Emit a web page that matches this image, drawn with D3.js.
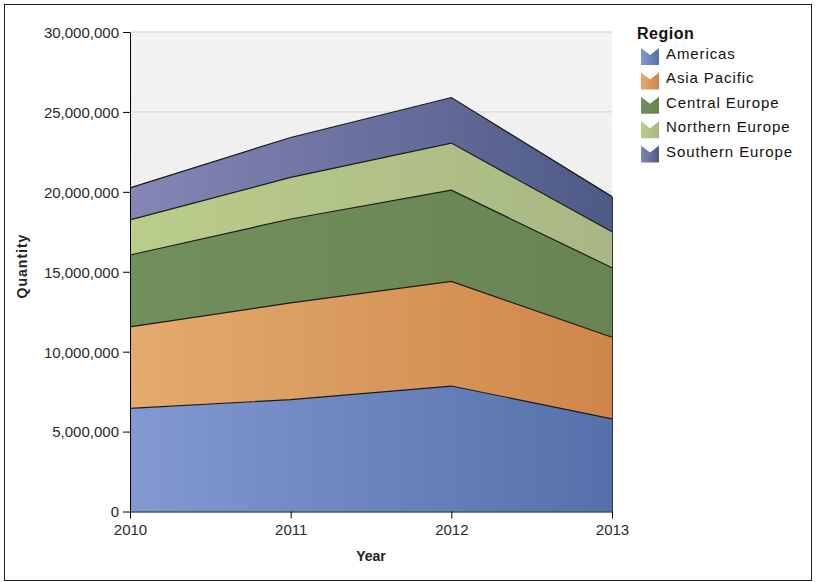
<!DOCTYPE html>
<html><head><meta charset="utf-8">
<script src="https://cdn.jsdelivr.net/npm/d3@7"></script>
<style>body{margin:0;background:#fff;} svg{display:block;font-family:"Liberation Sans",Arial,sans-serif;}</style>
</head><body>
<script>
const years = [2010, 2011, 2012, 2013];
const regions = ["Americas", "Asia Pacific", "Central Europe", "Northern Europe", "Southern Europe"];
const americas = [6450000, 7000000, 7850000, 5800000];
const asiaPacific = [5100000, 6050000, 6550000, 5100000];
const centralEurope = [4500000, 5250000, 5700000, 4350000];
const northernEurope = [2200000, 2600000, 2950000, 2250000];
const southernEurope = [2000000, 2500000, 2850000, 2200000];
const yTicks = [0, 5000000, 10000000, 15000000, 20000000, 25000000, 30000000];
const series = [americas, asiaPacific, centralEurope, northernEurope, southernEurope];
const colorsL = ["#8299d2", "#e3ab6d", "#718f5c", "#bbcd8a", "#8586b6"];
const colorsR = ["#5570aa", "#cf864a", "#698452", "#a8b784", "#4e5a86"];

const W = 817, H = 582;
const svg = d3.select("body").append("svg").attr("width", W).attr("height", H);
const defs = svg.append("defs");
const m = {l:130, r:612, t:32, b:511.5};
const x = d3.scalePoint().domain(years).range([m.l, m.r]);
const y = d3.scaleLinear().domain([0, 30000000]).range([m.b, m.t]);

svg.append("rect").attr("x",4.5).attr("y",4.5).attr("width",807).attr("height",576)
  .attr("fill","#fff").attr("stroke","#222").attr("stroke-width",1);

const bg = defs.append("linearGradient").attr("id","bg").attr("x1",0).attr("y1",0).attr("x2",0).attr("y2",1);
bg.append("stop").attr("offset","0%").attr("stop-color","#f3f3f3");
bg.append("stop").attr("offset","100%").attr("stop-color","#e6e6e6");
svg.append("rect").attr("x",m.l).attr("y",m.t).attr("width",m.r-m.l).attr("height",m.b-m.t).attr("fill","url(#bg)");

svg.append("g").selectAll("line").data(yTicks.slice(1)).join("line")
  .attr("x1",m.l).attr("x2",m.r).attr("y1",d=>y(d)).attr("y2",d=>y(d))
  .attr("stroke","#d2d2d2").attr("stroke-width",1);

const data = years.map((yr,i)=>{const o={year:yr}; regions.forEach((r,j)=>o[r]=series[j][i]); return o;});
const stack = d3.stack().keys(regions)(data);

regions.forEach((r,j)=>{
  const g = defs.append("linearGradient").attr("id","g"+j).attr("gradientUnits","userSpaceOnUse")
    .attr("x1",m.l).attr("x2",m.r).attr("y1",0).attr("y2",0);
  g.append("stop").attr("offset","0%").attr("stop-color",colorsL[j]);
  g.append("stop").attr("offset","100%").attr("stop-color",colorsR[j]);
});

const area = d3.area().x(d=>x(d.data.year)).y0(d=>y(d[0])).y1(d=>y(d[1]));
const line = d3.line().x(d=>x(d.data.year)).y(d=>y(d[1]));
svg.append("g").selectAll("path").data(stack).join("path")
  .attr("d",area).attr("fill",(d,i)=>"url(#g"+i+")");
svg.append("g").selectAll("path").data(stack).join("path")
  .attr("d",line).attr("fill","none").attr("stroke","#1a1a1a").attr("stroke-width",1.2);
svg.append("line").attr("x1",m.r+0.5).attr("x2",m.r+0.5).attr("y1",y(stack[4][3][1])).attr("y2",m.b)
  .attr("stroke","#333").attr("stroke-width",1);

const yAxis = svg.append("g").attr("transform",`translate(${m.l},0)`)
  .call(d3.axisLeft(y).tickValues(yTicks).tickFormat(d3.format(",")).tickSize(7).tickPadding(4).tickSizeOuter(0));
const xAxis = svg.append("g").attr("transform",`translate(0,${m.b})`)
  .call(d3.axisBottom(x).tickSize(7).tickSizeOuter(0));
[yAxis,xAxis].forEach(a=>{
  a.select(".domain").attr("stroke","#000");
  a.selectAll(".tick line").attr("stroke","#000");
  a.selectAll("text").attr("fill","#2a2a2a").attr("font-size",15).attr("font-family","Liberation Sans, Arial, sans-serif");
});
yAxis.selectAll("text").attr("dy","0.36em");
xAxis.selectAll("text").attr("dy","0.9em");

svg.append("text").attr("transform","translate(27,266) rotate(-90)").attr("text-anchor","middle")
  .attr("font-size",14).attr("font-weight","bold").attr("letter-spacing",1).attr("fill","#222").text("Quantity");
svg.append("text").attr("x",371).attr("y",561).attr("text-anchor","middle")
  .attr("font-size",14).attr("font-weight","bold").attr("fill","#222").text("Year");

const lg = svg.append("g");
lg.append("text").attr("x",637).attr("y",39).attr("font-size",16).attr("font-weight","bold").attr("letter-spacing",0.5).attr("fill","#111").text("Region");
regions.forEach((r,j)=>{
  const g = defs.append("linearGradient").attr("id","li"+j).attr("x1",0).attr("x2",1).attr("y1",0).attr("y2",0);
  g.append("stop").attr("offset","0%").attr("stop-color",colorsL[j]);
  g.append("stop").attr("offset","100%").attr("stop-color",colorsR[j]);
});
const items = lg.selectAll("g.it").data(regions).join("g").attr("class","it")
  .attr("transform",(d,i)=>`translate(641,${48+i*24.4})`);
items.append("path").attr("d","M0,0 L9,7 L18,0 L18,17 L0,17 Z").attr("fill",(d,i)=>"url(#li"+i+")");
items.append("text").attr("x",25).attr("y",11).attr("font-size",15).attr("letter-spacing",0.9).attr("fill","#111").text(d=>d);
</script>
</body></html>
